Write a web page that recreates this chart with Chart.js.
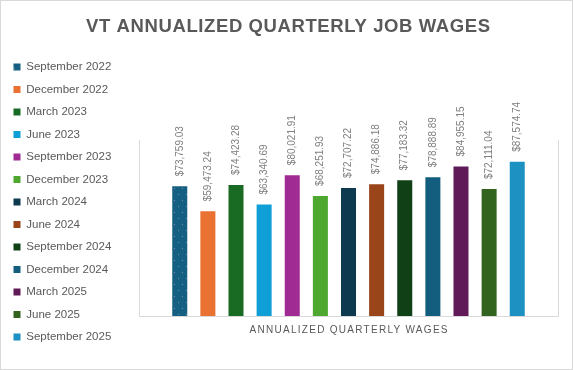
<!DOCTYPE html>
<html>
<head>
<meta charset="utf-8">
<script src="https://cdn.jsdelivr.net/npm/chart.js@4.4.1/dist/chart.umd.min.js"></script>
<style>
  html, body { margin: 0; padding: 0; background: #ffffff; }
  #wrap { width: 573px; height: 370px; position: relative; }
</style>
</head>
<body>
<div id="wrap"><canvas id="c" width="573" height="370"></canvas></div>
<script>
// ---- data ----
const chartTitle = 'VT ANNUALIZED QUARTERLY JOB WAGES';
const categories = ['Annualized Quarterly Wages'];
const quarters = ['September 2022', 'December 2022', 'March 2023', 'June 2023',
  'September 2023', 'December 2023', 'March 2024', 'June 2024',
  'September 2024', 'December 2024', 'March 2025', 'June 2025', 'September 2025'];
const wages = [73759.03, 59473.24, 74423.28, 63340.69, 80021.91, 68251.93,
  72707.22, 74886.18, 77183.32, 78888.89, 84955.15, 72111.04, 87574.74];
const barColors = ['#156082', '#E97132', '#196B24', '#0F9ED5', '#A02B93', '#4EA72E',
  '#0D3A4F', '#9A4419', '#0F4016', '#135D7E', '#601A58', '#32631F', '#1C91C2'];
const yMax = 100000;

// sparse dotted pattern for the first bar
function dotPattern(base) {
  const t = document.createElement('canvas');
  t.width = 8; t.height = 12;
  const g = t.getContext('2d');
  g.fillStyle = base; g.fillRect(0, 0, 8, 12);
  g.fillStyle = 'rgba(140,150,160,0.8)';
  g.fillRect(2, 2, 1, 1);
  g.fillRect(6, 8, 1, 1);
  return g.createPattern(t, 'repeat');
}

const fmt = new Intl.NumberFormat('en-US', { minimumFractionDigits: 2, maximumFractionDigits: 2 });

const datasets = quarters.map((q, i) => ({
  label: q,
  data: [wages[i]],
  backgroundColor: i === 0 ? dotPattern(barColors[i]) : barColors[i],
  borderWidth: 0,
  categoryPercentage: 0.8726,
  barPercentage: 0.534
}));

function spacedText(ctx, text, cx, y, targetW) {
  const supports = 'letterSpacing' in ctx;
  if (supports) ctx.letterSpacing = '0px';
  const w0 = ctx.measureText(text).width;
  const sp = Math.max(0, (targetW - w0) / (text.length - 1));
  if (supports) {
    ctx.letterSpacing = sp + 'px';
    ctx.textAlign = 'left';
    ctx.fillText(text, cx - targetW / 2, y);
    ctx.letterSpacing = '0px';
  } else {
    let x = cx - targetW / 2;
    ctx.textAlign = 'left';
    for (const ch of text) {
      ctx.fillText(ch, x, y);
      x += ctx.measureText(ch).width + sp;
    }
  }
}

const decor = {
  id: 'decor',
  afterDraw(chart) {
    const ctx = chart.ctx;
    const a = chart.chartArea;
    ctx.save();
    // outer border
    ctx.strokeStyle = '#d9d9d9';
    ctx.lineWidth = 1;
    ctx.strokeRect(0.5, 0.5, 572, 369);
    // plot area border (left, bottom, right)
    ctx.beginPath();
    ctx.moveTo(Math.round(a.left) + 0.5, a.top);
    ctx.lineTo(Math.round(a.left) + 0.5, Math.round(a.bottom) + 0.5);
    ctx.lineTo(Math.round(a.right) + 0.5, Math.round(a.bottom) + 0.5);
    ctx.lineTo(Math.round(a.right) + 0.5, a.top);
    ctx.stroke();

    // title
    ctx.fillStyle = '#595959';
    ctx.font = 'bold 18.5px "Liberation Sans", Arial, sans-serif';
    ctx.textBaseline = 'alphabetic';
    spacedText(ctx, chartTitle, 288, 32, 404);

    // category axis title
    ctx.font = '10px "Liberation Sans", Arial, sans-serif';
    spacedText(ctx, categories[0].toUpperCase(), (a.left + a.right) / 2, 333, 198);

    // data labels
    ctx.fillStyle = '#7f7f7f';
    ctx.font = '10px "Liberation Sans", Arial, sans-serif';
    chart.data.datasets.forEach((ds, i) => {
      const meta = chart.getDatasetMeta(i);
      const el = meta.data[0];
      if (!el) return;
      ctx.save();
      ctx.translate(el.x, el.y - 10);
      ctx.rotate(-Math.PI / 2);
      ctx.textAlign = 'left';
      ctx.textBaseline = 'middle';
      ctx.fillText('$' + fmt.format(ds.data[0]), 0, 0);
      ctx.restore();
    });
    ctx.restore();
  }
};

new Chart(document.getElementById('c'), {
  type: 'bar',
  data: { labels: categories, datasets },
  options: {
    responsive: false,
    animation: false,
    events: [],
    layout: { padding: { top: 45, bottom: 11, left: 2.5, right: 15 } },
    plugins: {
      title: { display: false },
      tooltip: { enabled: false },
      legend: {
        position: 'left',
        align: 'center',
        labels: {
          color: '#595959',
          font: { family: '"Liberation Sans", Arial, sans-serif', size: 11.5 },
          boxWidth: 7,
          boxHeight: 7,
          padding: 11
        }
      }
    },
    scales: {
      x: {
        display: true,
        grid: { display: false, drawTicks: false },
        border: { display: false },
        ticks: { display: false },
        afterFit(s) { s.height = 43; }
      },
      x2: {
        type: 'category',
        position: 'top',
        display: true,
        grid: { display: false, drawTicks: false },
        border: { display: false },
        ticks: { display: false },
        afterFit(s) { s.height = 95; }
      },
      y: {
        display: true,
        min: 0,
        max: yMax,
        grid: { display: false, drawTicks: false },
        border: { display: false },
        ticks: { display: false },
        afterFit(s) { s.width = 139 - 2.5 - s.chart.legend.width; }
      }
    }
  },
  plugins: [decor]
});
</script>
</body>
</html>
